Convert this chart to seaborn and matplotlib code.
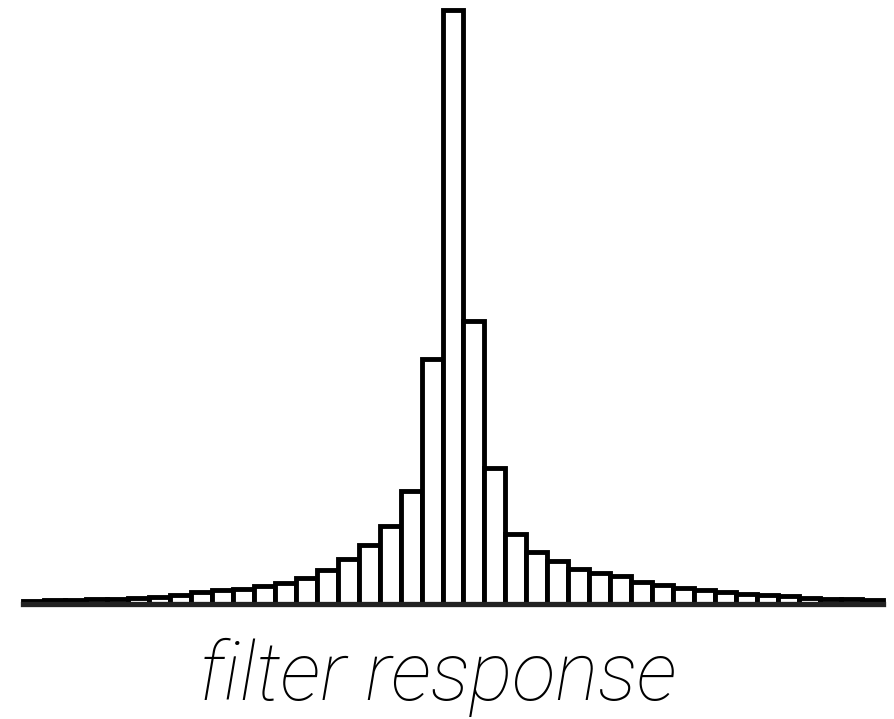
import matplotlib
matplotlib.use("Agg")
import matplotlib.pyplot as plt
import seaborn as sns
import pandas as pd

# bin indices (-20 .. 20) and bar heights (arbitrary units)
bins = list(range(-20, 21))
left_counts = [3.5, 4, 4.5, 5, 5.5, 6.5, 7, 9.3, 11.7, 13.7, 15.3, 18, 21.3, 26,
               34, 45, 59, 78, 113, 245]
center_count = [594]
right_counts = [283, 136, 70, 52, 43, 35, 31, 28, 22, 19, 16, 14, 12, 10.5, 9,
                8, 6.5, 5.5, 5, 4]
counts = left_counts + center_count + right_counts
xlabel = "filter response"

df = pd.DataFrame({"bin": bins, "count": counts})

sns.set_style("white")
fig = plt.figure(figsize=(8.95, 7.19), dpi=100)
W, H = 895, 719
ax = fig.add_axes([23 / W, 1 - 604 / H, (883 - 23) / W, 604 / H])

sns.barplot(data=df, x="bin", y="count", color="white", edgecolor="black",
            linewidth=3.5, width=1.0, ax=ax, saturation=1)
for p in ax.patches:
    p.set_clip_on(False)

ax.set_xlim(-0.5, len(bins) - 0.5)
ax.set_ylim(0, 604)
for s in ["top", "left", "right"]:
    ax.spines[s].set_visible(False)
ax.spines["bottom"].set_linewidth(3.8)
ax.spines["bottom"].set_color("#222222")
ax.spines["bottom"].set_zorder(5)
ax.spines["bottom"].set_clip_on(False)
ax.set_xticks([])
ax.set_yticks([])
ax.set_xlabel("")
ax.set_ylabel("")
ax.patch.set_alpha(0)

fig.text(437.5 / W, 1 - 700 / H, xlabel, ha="center", va="baseline",
         fontsize=58, fontstyle="italic", fontweight="light",
         family=["Roboto", "DejaVu Sans"], color="black")

fig.savefig("out.png", dpi=100, facecolor="white")
